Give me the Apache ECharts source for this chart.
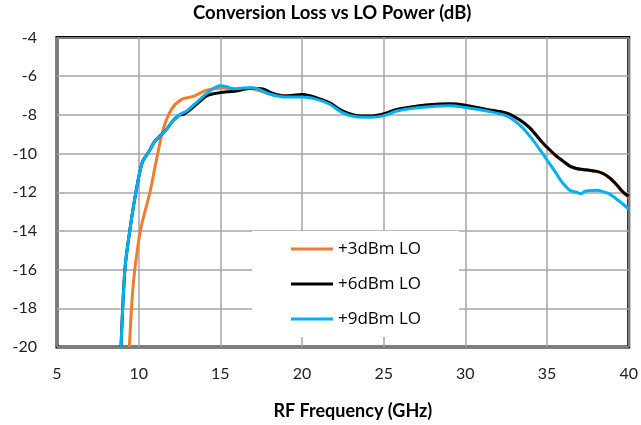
<!DOCTYPE html>
<html>
<head>
<meta charset="utf-8">
<script src="https://cdn.jsdelivr.net/npm/echarts@6/dist/echarts.min.js"></script>
<style>
  html, body { margin: 0; padding: 0; background: #fff; }
  #chartBox { width: 641px; height: 425px; }
</style>
</head>
<body>
<div id="chartBox"></div>
<script>
// frequency (GHz) and conversion loss (dB)
var seriesNames = ['+3dBm LO', '+6dBm LO', '+9dBm LO'];

var freq3 = [9.43, 9.6, 9.77, 10.12, 10.69, 11.06, 11.5, 12.0, 12.63, 13.35, 14.16, 15.2, 16.0, 16.8, 17.8,
	19.0, 20.04, 20.9, 21.7, 22.5, 23.3, 24.15, 24.97, 25.8, 26.6, 27.8, 29.05, 30.0, 31.3, 32.5, 33.3,
	33.95, 34.56, 34.97, 35.58, 35.99, 36.4, 36.8, 37.2, 37.6, 38.0, 38.43, 38.84, 39.25, 39.66, 40.0];
var loss3 = [-20, -17.5, -15.95, -13.92, -12.0, -10.45, -8.75, -7.72, -7.2, -7.04, -6.73, -6.61, -6.69, -6.64, -6.86,
	-7.0, -6.97, -7.14, -7.4, -7.83, -8.05, -8.08, -7.97, -7.74, -7.62, -7.49, -7.45, -7.52, -7.74, -7.92, -8.26,
	-8.69, -9.29, -9.67, -10.15, -10.41, -10.67, -10.79, -10.84, -10.88, -10.93, -11.05, -11.28, -11.63, -12.03, -12.26];

var freq6 = [8.92, 9.16, 9.47, 9.83, 10.22, 10.59, 11.0, 11.3, 11.7, 12.1, 12.53, 12.73, 13.2, 13.75, 14.2,
	14.98, 15.5, 16.0, 16.8, 17.6, 18.2, 19.0, 20.04, 20.9, 21.7, 22.5, 23.3, 24.15, 24.97, 25.8, 26.6,
	27.8, 29.05, 30.0, 31.3, 32.5, 33.3, 33.95, 34.56, 34.97, 35.58, 35.99, 36.4, 36.8, 37.2, 37.6, 38.0,
	38.43, 38.84, 39.25, 39.66, 40.0];
var loss6 = [-20, -15.95, -13.9, -12.0, -10.45, -9.95, -9.35, -9.1, -8.75, -8.3, -8.0, -7.98, -7.7, -7.3, -7.0,
	-6.85, -6.8, -6.77, -6.62, -6.66, -6.88, -7.03, -6.95, -7.12, -7.38, -7.81, -8.03, -8.06, -7.95, -7.72, -7.6,
	-7.47, -7.43, -7.5, -7.72, -7.9, -8.24, -8.67, -9.27, -9.65, -10.13, -10.39, -10.65, -10.77, -10.82, -10.86, -10.91,
	-11.03, -11.26, -11.6, -11.99, -12.2];

var freq9 = [8.92, 9.16, 9.47, 9.83, 10.22, 10.59, 11.0, 11.3, 11.7, 12.1, 12.53, 12.94, 13.35, 13.75, 14.2,
	14.98, 15.4, 15.77, 16.3, 16.8, 17.3, 18.0, 19.0, 20.04, 20.9, 21.7, 22.5, 23.3, 24.15, 24.97, 25.8,
	26.6, 27.8, 29.05, 30.0, 31.3, 32.5, 33.3, 33.95, 34.56, 34.97, 35.58, 35.8, 35.99, 36.2, 36.4, 36.8,
	37.1, 37.3, 37.6, 38.0, 38.43, 38.84, 39.25, 39.66, 40.0];
var loss9 = [-20, -15.95, -13.9, -12.0, -10.45, -9.95, -9.35, -9.1, -8.75, -8.3, -7.98, -7.8, -7.5, -7.2, -6.87,
	-6.5, -6.55, -6.65, -6.62, -6.6, -6.66, -6.92, -7.08, -7.08, -7.2, -7.45, -7.9, -8.1, -8.12, -8.05, -7.8,
	-7.68, -7.58, -7.53, -7.62, -7.8, -8.05, -8.5, -9.1, -9.8, -10.3, -11.05, -11.35, -11.55, -11.75, -11.9, -12.0,
	-12.08, -11.95, -11.92, -11.9, -11.97, -12.1, -12.35, -12.62, -12.88];

var xTicks = [5, 10, 15, 20, 25, 30, 35, 40];
var yTicks = [-20, -18, -16, -14, -12, -10, -8, -6, -4];

function pairs(xs, ys) {
	return xs.map(function(x, i) { return [x, ys[i]]; });
}

window.addEventListener('load', function() {
	var myChart = echarts.init(document.getElementById('chartBox'), null, { renderer: 'canvas' });

	var axisFont = 'Lato, "Liberation Sans", sans-serif';
	var option = {
		animation: false,
		backgroundColor: '#fff',
		title: {
			text: 'Conversion Loss vs LO Power (dB)',
			left: 193,
			top: 4,
			padding: 0,
			textStyle: { fontFamily: axisFont, fontSize: 18.5, fontWeight: 'bold', color: '#000' }
		},
		legend: {
			data: seriesNames,
			orient: 'vertical',
			left: 252,
			top: 231,
			backgroundColor: '#fff',
			padding: [8, 38, 8, 39],
			icon: 'rect',
			itemWidth: 42,
			itemHeight: 3,
			itemGap: 15,
			textStyle: { fontFamily: '"Open Sans", sans-serif', fontSize: 17, lineHeight: 20, color: '#000' }
		},
		grid: {
			left: 57,
			right: 12,
			top: 37.5,
			bottom: 76,
			show: true,
			borderColor: '#000',
			borderWidth: 3
		},
		xAxis: {
			type: 'value',
			min: xTicks[0],
			max: xTicks[xTicks.length - 1],
			interval: 5,
			name: 'RF Frequency (GHz)',
			nameLocation: 'middle',
			nameGap: 55,
			nameTextStyle: { fontFamily: axisFont, fontSize: 18, fontWeight: 'bold', color: '#000', padding: [0, 0, 0, 20] },
			axisLine: { show: false },
			axisTick: { show: false },
			axisLabel: { margin: 19, fontFamily: axisFont, fontSize: 16, color: '#222' },
			splitLine: { show: true, lineStyle: { color: '#a6a6a6', width: 1.5 } }
		},
		yAxis: {
			type: 'value',
			min: yTicks[0],
			max: yTicks[yTicks.length - 1],
			interval: 2,
			axisLine: { show: false },
			axisTick: { show: false },
			axisLabel: { margin: 20, fontFamily: axisFont, fontSize: 16, color: '#222' },
			splitLine: { show: true, lineStyle: { color: '#a6a6a6', width: 1.5 } }
		},
		series: [
			{ name: seriesNames[0], type: 'line', data: pairs(freq3, loss3), smooth: 0.3, showSymbol: false,
				lineStyle: { color: '#ED7D31', width: 3 }, itemStyle: { color: '#ED7D31' } },
			{ name: seriesNames[1], type: 'line', data: pairs(freq6, loss6), smooth: 0.3, showSymbol: false,
				lineStyle: { color: '#000000', width: 3 }, itemStyle: { color: '#000000' } },
			{ name: seriesNames[2], type: 'line', data: pairs(freq9, loss9), smooth: 0.3, showSymbol: false,
				lineStyle: { color: '#00B0F0', width: 3 }, itemStyle: { color: '#00B0F0' } }
		]
	};
	myChart.setOption(option);
});
</script>
</body>
</html>
